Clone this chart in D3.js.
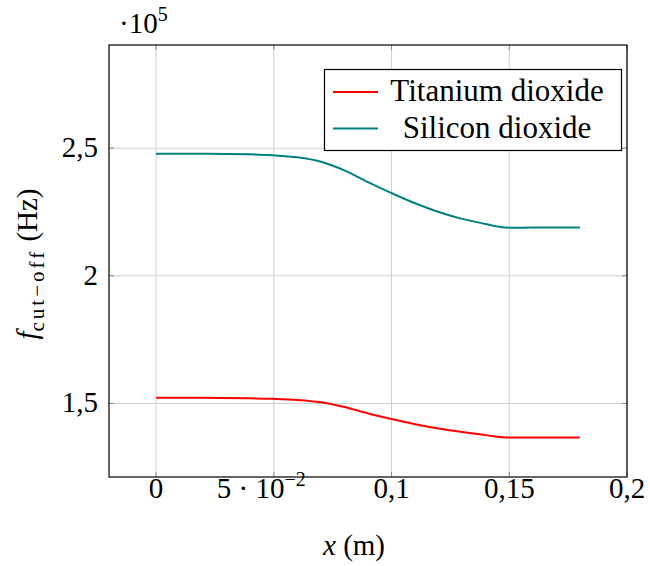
<!DOCTYPE html>
<html>
<head>
<meta charset="utf-8">
<script src="https://cdn.jsdelivr.net/npm/d3@7"></script>
<style>
  body { margin: 0; background: #fff; }
  text { font-family: "Liberation Serif", serif; fill: #000; }
</style>
</head>
<body>
<div id="chart"></div>
<script>
// positions along the guide (m)
var xs = [0, 0.02, 0.04, 0.05, 0.06, 0.07, 0.08, 0.09, 0.1, 0.11, 0.12, 0.13, 0.14, 0.147, 0.16, 0.18];
// cut-off frequency, units of 1e5 Hz
var titanium = [1.522, 1.522, 1.520, 1.518, 1.514, 1.505, 1.486, 1.461, 1.439, 1.419, 1.402, 1.388, 1.376, 1.368, 1.367, 1.367];
var silicon = [2.478, 2.478, 2.476, 2.472, 2.464, 2.447, 2.413, 2.367, 2.324, 2.284, 2.250, 2.223, 2.203, 2.190, 2.189, 2.189];
var seriesNames = ["Titanium dioxide", "Silicon dioxide"];
var seriesColors = ["#ff0000", "#008080"];
var xTicks = [0, 0.05, 0.1, 0.15, 0.2];
var xTickLabels = ["0", "5·10^−2", "0,1", "0,15", "0,2"];
var yTicks = [1.5, 2, 2.5];
var yTickLabels = ["1,5", "2", "2,5"];

initChart();

function initChart() {
    var W = 650, H = 566;
    var left = 109, right = 627, top = 45, bottom = 477;

    var svg = d3.select("#chart").append("svg")
            .attr("width", W)
            .attr("height", H);

    var x = d3.scaleLinear().domain([-0.02, 0.2]).range([left, right]);
    var y = d3.scaleLinear().domain([1.212, 2.904]).range([bottom, top]);

    // grid
    svg.selectAll("line.gx").data(xTicks).enter().append("line")
            .attr("x1", function(d) { return x(d); })
            .attr("x2", function(d) { return x(d); })
            .attr("y1", top).attr("y2", bottom)
            .style("stroke", "#cfcfcf").style("stroke-width", 1);
    svg.selectAll("line.gy").data(yTicks).enter().append("line")
            .attr("y1", function(d) { return y(d); })
            .attr("y2", function(d) { return y(d); })
            .attr("x1", left).attr("x2", right)
            .style("stroke", "#cfcfcf").style("stroke-width", 1);

    // small ticks on the frame
    var tk = svg.append("g").style("stroke", "#888").style("stroke-width", 1);
    xTicks.forEach(function(d) {
        tk.append("line").attr("x1", x(d)).attr("x2", x(d)).attr("y1", bottom).attr("y2", bottom - 5);
        tk.append("line").attr("x1", x(d)).attr("x2", x(d)).attr("y1", top).attr("y2", top + 5);
    });
    yTicks.forEach(function(d) {
        tk.append("line").attr("y1", y(d)).attr("y2", y(d)).attr("x1", left).attr("x2", left + 5);
        tk.append("line").attr("y1", y(d)).attr("y2", y(d)).attr("x1", right).attr("x2", right - 5);
    });

    // curves
    var line = d3.line()
            .x(function(d) { return x(d[0]); })
            .y(function(d) { return y(d[1]); })
            .curve(d3.curveCatmullRom);
    [titanium, silicon].forEach(function(vals, i) {
        svg.append("path")
                .datum(d3.zip(xs, vals))
                .attr("d", line)
                .style("fill", "none")
                .style("stroke", seriesColors[i])
                .style("stroke-width", 2);
    });

    // frame
    svg.append("rect")
            .attr("x", left).attr("y", top)
            .attr("width", right - left).attr("height", bottom - top)
            .style("fill", "none").style("stroke", "#000").style("stroke-width", 1.2);

    // y tick labels
    svg.selectAll("text.yl").data(yTicks).enter().append("text")
            .attr("x", 98)
            .attr("y", function(d) { return y(d) + 9; })
            .attr("text-anchor", "end")
            .style("font-size", "29px")
            .text(function(d, i) { return yTickLabels[i]; });

    // x tick labels
    xTicks.forEach(function(d, i) {
        var lab = xTickLabels[i];
        var t = svg.append("text")
                .attr("y", 498)
                .style("font-size", "29px");
        if (lab.indexOf("^") >= 0) {
            var parts = lab.split("^");
            t.attr("x", x(d) - 57).attr("text-anchor", "start");
            t.append("tspan").text(parts[0].replace("·", " · "));
            t.append("tspan").attr("dy", -12).style("font-size", "20px").text(parts[1]);
        } else {
            t.attr("x", x(d)).attr("text-anchor", "middle").text(lab);
        }
    });

    // exponent marker
    var ex = svg.append("text").attr("x", 119).attr("y", 33).style("font-size", "29px");
    ex.append("tspan").text("·10");
    ex.append("tspan").attr("dy", -12).style("font-size", "20px").text("5");

    // axis labels
    var xl = svg.append("text")
            .attr("x", 354).attr("y", 555)
            .attr("text-anchor", "middle")
            .style("font-size", "29px");
    xl.append("tspan").style("font-style", "italic").text("x");
    xl.append("tspan").text(" (m)");

    var yl = svg.append("text")
            .attr("transform", "translate(37,264) rotate(-90)")
            .attr("text-anchor", "middle")
            .style("font-size", "29px");
    yl.append("tspan").style("font-style", "italic").text("f");
    yl.append("tspan").attr("dy", 7).style("font-size", "21px").style("letter-spacing", "3px").text("cut−off");
    yl.append("tspan").attr("dy", -7).text(" (Hz)");

    // legend
    var lg = svg.append("g");
    lg.append("rect")
            .attr("x", 324.5).attr("y", 69.5)
            .attr("width", 297).attr("height", 81)
            .style("fill", "#fff").style("stroke", "#000").style("stroke-width", 1.2);
    seriesNames.forEach(function(name, i) {
        var ly = 92 + i * 36.5;
        lg.append("line")
                .attr("x1", 333).attr("x2", 378)
                .attr("y1", ly).attr("y2", ly)
                .style("stroke", seriesColors[i]).style("stroke-width", 2);
        lg.append("text")
                .attr("x", 497).attr("y", ly + 9)
                .attr("text-anchor", "middle")
                .style("font-size", "31px")
                .text(name);
    });
}
</script>
</body>
</html>
